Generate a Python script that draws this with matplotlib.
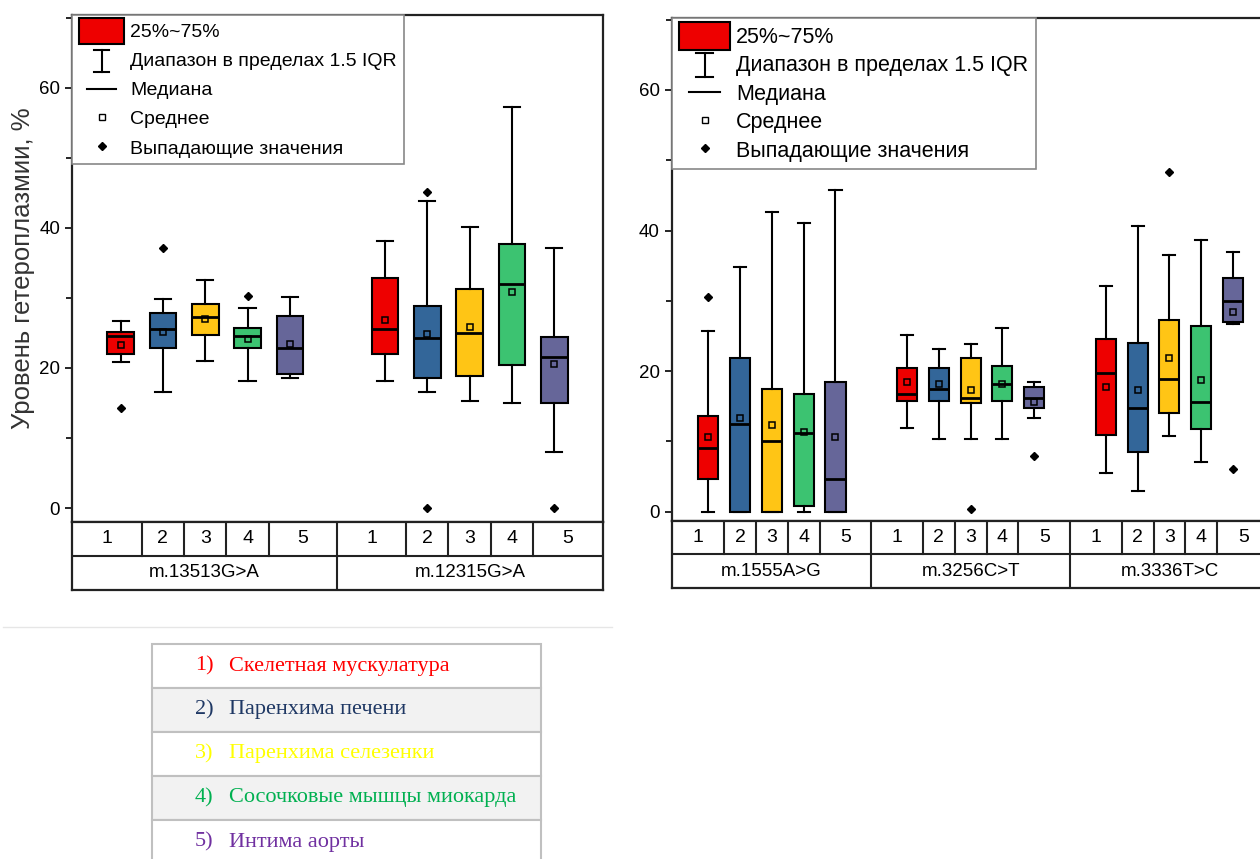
import matplotlib
matplotlib.use("Agg")
import matplotlib.pyplot as plt
from matplotlib.lines import Line2D
from matplotlib.patches import Rectangle
from matplotlib.legend_handler import HandlerBase
from matplotlib.ticker import MultipleLocator


# ==========================================
# DATA
# ==========================================

tissue_nums = ["1", "2", "3", "4", "5"]
tissue_colors = ["#ee0000", "#336699", "#ffc515", "#3cc371", "#666699"]

tissue_names = [
    "Скелетная мускулатура",
    "Паренхима печени",
    "Паренхима селезенки",
    "Сосочковые мышцы миокарда",
    "Интима аорты",
]
tissue_text_colors = ["#ff0000", "#1f3864", "#ffff00", "#00b050", "#7030a0"]

# left panel
left_groups = ["m.13513G>A", "m.12315G>A"]
left_wlo = [[20.8, 16.6, 21.0, 18.1, 18.5], [18.1, 16.6, 15.3, 15.0, 8.0]]
left_q1 = [[22.0, 22.9, 24.7, 22.8, 19.1], [22.0, 18.6, 18.9, 20.4, 15.0]]
left_med = [[24.5, 25.5, 27.3, 24.5, 22.8], [25.5, 24.3, 25.0, 32.0, 21.6]]
left_q3 = [[25.1, 27.9, 29.2, 25.7, 27.4], [32.9, 28.8, 31.3, 37.7, 24.4]]
left_whi = [[26.7, 29.8, 32.5, 28.6, 30.1], [38.2, 43.9, 40.2, 57.2, 37.2]]
left_mean = [[23.3, 25.2, 27.0, 24.2, 23.4], [26.8, 24.9, 25.8, 30.9, 20.5]]
left_fliers = [[[14.3], [37.1], [], [30.3], []],
               [[], [45.1, 0.0], [], [], [0.0]]]

# right panel
right_groups = ["m.1555A>G", "m.3256C>T", "m.3336T>C"]
right_wlo = [[0.0, 0.0, 0.0, 0.0, 0.0],
             [11.9, 10.4, 10.4, 10.4, 13.3],
             [5.5, 2.9, 10.7, 7.1, 26.7]]
right_q1 = [[4.7, 0.0, 0.0, 0.8, 0.0],
            [15.8, 15.8, 15.4, 15.8, 14.8],
            [10.9, 8.5, 14.0, 11.7, 27.0]]
right_med = [[9.1, 12.4, 10.1, 11.2, 4.7],
             [16.8, 17.5, 16.2, 18.1, 16.1],
             [19.7, 14.8, 18.8, 15.6, 30.0]]
right_q3 = [[13.6, 21.9, 17.5, 16.8, 18.5],
            [20.5, 20.5, 21.9, 20.7, 17.7],
            [24.6, 24.0, 27.2, 26.4, 33.3]]
right_whi = [[25.7, 34.8, 42.6, 41.1, 45.8],
             [25.2, 23.2, 23.8, 26.1, 18.5],
             [32.1, 40.6, 36.5, 38.7, 37.0]]
right_mean = [[10.6, 13.3, 12.3, 11.3, 10.6],
              [18.5, 18.2, 17.3, 18.1, 15.6],
              [17.8, 17.3, 21.8, 18.7, 28.4]]
right_fliers = [[[30.6], [], [], [], []],
                [[], [], [0.3], [], [7.9]],
                [[], [], [48.3], [], [6.1]]]

legend_labels = [
    "25%~75%",
    "Диапазон в пределах 1.5 IQR",
    "Медиана",
    "Среднее",
    "Выпадающие значения",
]


# ==========================================
# Helpers
# ==========================================

GROUP_STEP = 6.25
X_PAD = 1.15

plt.rcParams["font.family"] = ["Liberation Sans", "DejaVu Sans"]


class KeyHandler(HandlerBase):
    # draws the box-plot legend symbols (box / whisker / median)
    def __init__(self, kind):
        super().__init__()
        self.kind = kind

    def create_artists(self, legend, orig_handle, xdescent, ydescent,
                       width, height, fontsize, trans):
        x0 = -xdescent
        y0 = -ydescent
        cx = x0 + width / 2
        if self.kind == "box":
            arts = [Rectangle((x0, y0 - 0.25 * height), width, 1.45 * height,
                              facecolor=tissue_colors[0], edgecolor="black",
                              lw=1.5)]
        elif self.kind == "whisker":
            lo = y0 - 0.2 * height
            hi = y0 + 1.05 * height
            cw = 0.17 * width
            arts = [
                Line2D([cx, cx], [lo, hi], color="black", lw=1.5),
                Line2D([cx - cw, cx + cw], [lo, lo], color="black", lw=1.5),
                Line2D([cx - cw, cx + cw], [hi, hi], color="black", lw=1.5),
            ]
        else:
            hw = 0.31 * width
            ym = y0 + height / 2
            arts = [Line2D([cx - hw, cx + hw], [ym, ym], color="black", lw=1.5)]
        for a in arts:
            a.set_transform(trans)
        return arts


def positions(n_groups):
    return [[1 + i + g * GROUP_STEP for i in range(5)] for g in range(n_groups)]


def draw_panel(ax, ax_t, groups, wlo, q1, med, q3, whi, mean, fliers, ylim,
               leg_size, leg_space):
    pos = positions(len(groups))
    for g in range(len(groups)):
        stats = []
        for i in range(5):
            stats.append(dict(
                whislo=wlo[g][i], q1=q1[g][i], med=med[g][i], q3=q3[g][i],
                whishi=whi[g][i], mean=mean[g][i], fliers=fliers[g][i],
            ))
        bp = ax.bxp(
            stats, positions=pos[g], widths=0.63, capwidths=0.38,
            patch_artist=True, showmeans=True, manage_ticks=False,
            boxprops=dict(edgecolor="black", linewidth=1.5),
            whiskerprops=dict(color="black", linewidth=1.5),
            capprops=dict(color="black", linewidth=1.5),
            medianprops=dict(color="black", linewidth=2),
            meanprops=dict(marker="s", markerfacecolor="none",
                           markeredgecolor="black", markersize=4,
                           markeredgewidth=1.1),
            flierprops=dict(marker="D", markerfacecolor="black",
                            markeredgecolor="black", markersize=4.5),
        )
        for patch, c in zip(bp["boxes"], tissue_colors):
            patch.set_facecolor(c)

    xl = (1 - X_PAD, pos[-1][-1] + X_PAD)
    ax.set_xlim(xl)
    ax.set_ylim(ylim)
    ax.set_xticks([])
    ax.set_yticks([0, 20, 40, 60])
    ax.yaxis.set_minor_locator(MultipleLocator(10))
    ax.tick_params(axis="y", which="both", direction="out", width=1.2,
                   labelsize=13.5)
    ax.tick_params(axis="y", which="major", length=5)
    ax.tick_params(axis="y", which="minor", length=4)
    for s in ax.spines.values():
        s.set_linewidth(1.6)
        s.set_color("#222222")

    h_box = Line2D([], [])
    h_whisk = Line2D([], [])
    h_med = Line2D([], [])
    handles = [
        h_box,
        h_whisk,
        h_med,
        Line2D([], [], ls="none", marker="s", markerfacecolor="none",
               markeredgecolor="black", markersize=4),
        Line2D([], [], ls="none", marker="D", markerfacecolor="black",
               markeredgecolor="black", markersize=4),
    ]
    leg = ax.legend(
        handles, legend_labels, loc="upper left", borderaxespad=0,
        fancybox=False, framealpha=1, edgecolor="#888888", fontsize=leg_size,
        handlelength=2.35, handleheight=1.0, labelspacing=leg_space,
        borderpad=0.35, handletextpad=0.3,
        handler_map={h_box: KeyHandler("box"), h_whisk: KeyHandler("whisker"),
                     h_med: KeyHandler("median")},
    )
    leg.get_frame().set_linewidth(1.2)

    # category table below the plot
    ax_t.set_xlim(xl)
    ax_t.set_ylim(0, 2)
    ax_t.set_xticks([])
    ax_t.set_yticks([])
    for s in ax_t.spines.values():
        s.set_linewidth(1.6)
        s.set_color("#222222")
    ax_t.axhline(1, color="#222222", lw=1.5)
    for g in range(len(groups)):
        left = xl[0] if g == 0 else (pos[g - 1][-1] + pos[g][0]) / 2
        right = xl[1] if g == len(groups) - 1 else (pos[g][-1] + pos[g + 1][0]) / 2
        if g > 0:
            ax_t.plot([left, left], [0, 2], color="#222222", lw=1.5)
        edges = [left] + [p + 0.5 for p in pos[g][:-1]] + [right]
        for i in range(5):
            if i > 0:
                ax_t.plot([edges[i], edges[i]], [1, 2], color="#222222", lw=1.5)
            ax_t.text((edges[i] + edges[i + 1]) / 2, 1.5, tissue_nums[i],
                      ha="center", va="center", fontsize=14)
        ax_t.text((left + right) / 2, 0.5, groups[g], ha="center",
                  va="center", fontsize=13.5)


# ==========================================
# Plot
# ==========================================

fig = plt.figure(figsize=(12.6, 8.59), dpi=100)

ax1 = fig.add_axes([0.0571, 0.3923, 0.4214, 0.5902])
ax1_t = fig.add_axes([0.0571, 0.3132, 0.4214, 0.0792])
draw_panel(ax1, ax1_t, left_groups, left_wlo, left_q1, left_med, left_q3,
           left_whi, left_mean, left_fliers, (-2.0, 70.4), 14, 0.5)
ax1.set_ylabel("Уровень гетероплазмии, %", fontsize=18.5, color="#333333",
               labelpad=3)

ax2 = fig.add_axes([0.5331, 0.3938, 0.4745, 0.5849])
ax2_t = fig.add_axes([0.5331, 0.3155, 0.4745, 0.0783])
draw_panel(ax2, ax2_t, right_groups, right_wlo, right_q1, right_med, right_q3,
           right_whi, right_mean, right_fliers, (-1.3, 70.2), 15.5, 0.3)

# thin separator line
fig.add_artist(Line2D([3 / 1260, 612 / 1260], [1 - 627 / 859, 1 - 627 / 859],
                      color="#e6e6e6", lw=1))

# tissue key table
ax_k = fig.add_axes([152 / 1260, 0, 389 / 1260, 215 / 859])
ax_k.set_xlim(0, 389)
ax_k.set_ylim(215, 0)
ax_k.axis("off")
row_tops = [0, 43.5, 87.5, 131.5, 176]
for i, name in enumerate(tissue_names):
    face = "#f2f2f2" if i % 2 == 1 else "white"
    ax_k.add_patch(Rectangle((0, row_tops[i]), 389, 44, facecolor=face,
                             edgecolor="#c0c0c0", lw=1.5, clip_on=False))
    ax_k.text(43, row_tops[i] + 22, f"{i + 1})", color=tissue_text_colors[i],
              fontsize=16, family="Liberation Serif", va="center")
    ax_k.text(77, row_tops[i] + 22, name, color=tissue_text_colors[i],
              fontsize=16, family="Liberation Serif", va="center")

plt.savefig("out.png", dpi=100)
plt.close()
